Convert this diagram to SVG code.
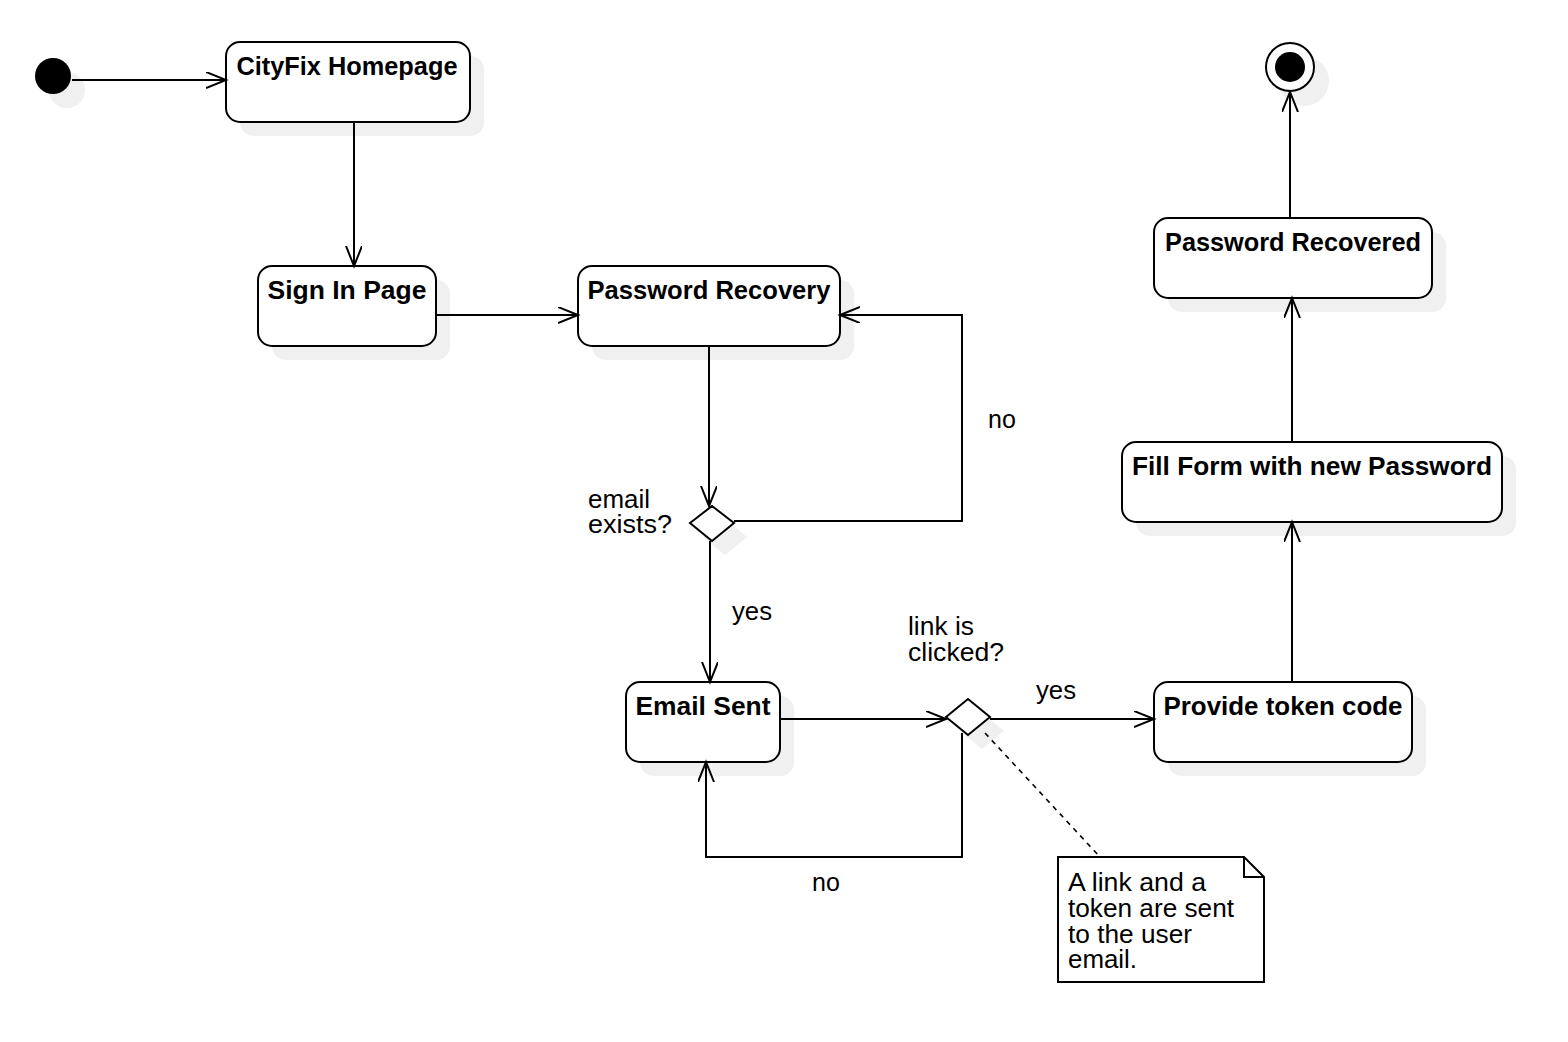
<svg xmlns="http://www.w3.org/2000/svg" width="1568" height="1042" viewBox="0 0 1568 1042">
  <style>
    .shadow { fill: #f0f0f0; stroke: none; }
    .state { fill: #ffffff; stroke: #000000; stroke-width: 2; }
    .title { font-family: "Liberation Sans", Arial, sans-serif; font-size: 25px; font-weight: bold; fill: #000000; text-anchor: middle; }
    .label { font-family: "Liberation Sans", Arial, sans-serif; font-size: 25px; fill: #000000; }
    .flow { fill: none; stroke: #000000; stroke-width: 2; marker-end: url(#open-arrow); }
    .dashed { fill: none; stroke: #000000; stroke-width: 1.6; stroke-dasharray: 5 5; }
  </style>
  <defs>
    <marker id="open-arrow" markerUnits="userSpaceOnUse" markerWidth="24" markerHeight="20" refX="20" refY="8" orient="auto">
      <path d="M0,0 L20,8 L0,16" fill="none" stroke="#000000" stroke-width="2"/>
    </marker>
  </defs>
  <rect width="1568" height="1042" fill="#ffffff"/>

  <!-- start / end pseudo-states -->
  <g id="initial">
    <circle class="shadow" cx="67" cy="90" r="18"/>
    <circle cx="53" cy="76" r="18" fill="#000000"/>
  </g>
  <g id="final">
    <circle class="shadow" cx="1304" cy="81" r="25"/>
    <circle cx="1290" cy="67" r="24" fill="#ffffff" stroke="#000000" stroke-width="2"/>
    <circle cx="1290" cy="67" r="15" fill="#000000"/>
  </g>

  <!-- states -->
  <g id="cityfix-homepage">
    <rect class="shadow" x="240" y="56" width="244" height="80" rx="14"/>
    <rect class="state" x="226" y="42" width="244" height="80" rx="14"/>
    <text class="title" x="347" y="75" textLength="221" lengthAdjust="spacingAndGlyphs">CityFix Homepage</text>
  </g>
  <g id="sign-in-page">
    <rect class="shadow" x="272" y="280" width="178" height="80" rx="14"/>
    <rect class="state" x="258" y="266" width="178" height="80" rx="14"/>
    <text class="title" x="347" y="299" textLength="159" lengthAdjust="spacingAndGlyphs">Sign In Page</text>
  </g>
  <g id="password-recovery">
    <rect class="shadow" x="592" y="280" width="262" height="80" rx="14"/>
    <rect class="state" x="578" y="266" width="262" height="80" rx="14"/>
    <text class="title" x="709" y="299" textLength="243" lengthAdjust="spacingAndGlyphs">Password Recovery</text>
  </g>
  <g id="email-sent">
    <rect class="shadow" x="640" y="696" width="154" height="80" rx="14"/>
    <rect class="state" x="626" y="682" width="154" height="80" rx="14"/>
    <text class="title" x="703" y="715" textLength="135" lengthAdjust="spacingAndGlyphs">Email Sent</text>
  </g>
  <g id="provide-token-code">
    <rect class="shadow" x="1168" y="696" width="258" height="80" rx="14"/>
    <rect class="state" x="1154" y="682" width="258" height="80" rx="14"/>
    <text class="title" x="1283" y="715" textLength="239" lengthAdjust="spacingAndGlyphs">Provide token code</text>
  </g>
  <g id="fill-form">
    <rect class="shadow" x="1136" y="456" width="380" height="80" rx="14"/>
    <rect class="state" x="1122" y="442" width="380" height="80" rx="14"/>
    <text class="title" x="1312" y="475" textLength="360" lengthAdjust="spacingAndGlyphs">Fill Form with new Password</text>
  </g>
  <g id="password-recovered">
    <rect class="shadow" x="1168" y="232" width="278" height="80" rx="14"/>
    <rect class="state" x="1154" y="218" width="278" height="80" rx="14"/>
    <text class="title" x="1293" y="251" textLength="256" lengthAdjust="spacingAndGlyphs">Password Recovered</text>
  </g>

  <!-- decisions -->
  <g id="email-exists">
    <path class="shadow" d="M703,537 L725,519 L747,537 L725,555 Z"/>
    <path class="state" d="M690,523 L712,506 L734,523 L712,541 Z"/>
    <text class="label" x="588" y="508" textLength="62" lengthAdjust="spacingAndGlyphs">email</text>
    <text class="label" x="588" y="533" textLength="84" lengthAdjust="spacingAndGlyphs">exists?</text>
  </g>
  <g id="link-clicked">
    <path class="shadow" d="M960,731 L982,713 L1004,731 L982,749 Z"/>
    <path class="state" d="M946,717 L968,699 L990,717 L968,735 Z"/>
    <text class="label" x="908" y="635" textLength="66" lengthAdjust="spacingAndGlyphs">link is</text>
    <text class="label" x="908" y="661" textLength="96" lengthAdjust="spacingAndGlyphs">clicked?</text>
  </g>

  <!-- note -->
  <g id="note">
    <path d="M1058,857 H1244 L1264,877 V982 H1058 Z" fill="#ffffff" stroke="#000000" stroke-width="2"/>
    <path d="M1244,857 V877 H1264" fill="none" stroke="#000000" stroke-width="2"/>
    <text class="label" x="1068" y="891" textLength="138" lengthAdjust="spacingAndGlyphs">A link and a</text>
    <text class="label" x="1068" y="917" textLength="166" lengthAdjust="spacingAndGlyphs">token are sent</text>
    <text class="label" x="1068" y="943" textLength="124" lengthAdjust="spacingAndGlyphs">to the user</text>
    <text class="label" x="1068" y="968" textLength="69" lengthAdjust="spacingAndGlyphs">email.</text>
  </g>

  <!-- transitions -->
  <g id="connectors">
    <path class="flow" d="M72,80 H226"/>
    <path class="flow" d="M354,122 V266"/>
    <path class="flow" d="M436,315 H578"/>
    <path class="flow" d="M709,346 V506"/>
    <path class="flow" d="M734,521 H962 V315 H840"/>
    <text class="label" x="988" y="428">no</text>
    <path class="flow" d="M710,541 V682"/>
    <text class="label" x="732" y="620" textLength="40" lengthAdjust="spacingAndGlyphs">yes</text>
    <path class="flow" d="M780,719 H946"/>
    <path class="flow" d="M962,733 V857 H706 V762"/>
    <text class="label" x="812" y="891">no</text>
    <path class="flow" d="M990,719 H1154"/>
    <text class="label" x="1036" y="699" textLength="40" lengthAdjust="spacingAndGlyphs">yes</text>
    <path class="flow" d="M1292,682 V522"/>
    <path class="flow" d="M1292,442 V298"/>
    <path class="flow" d="M1290,218 V92"/>
    <path class="dashed" d="M985,733 L1100,857"/>
  </g>
</svg>
